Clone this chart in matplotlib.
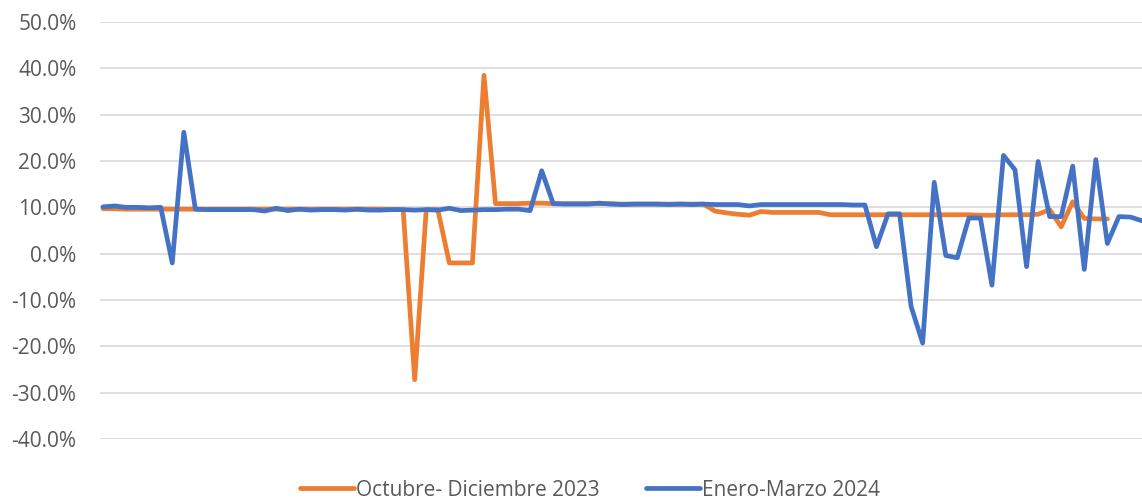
import matplotlib.pyplot as plt
from matplotlib.ticker import FuncFormatter, MultipleLocator

# valores (%)
octubre_diciembre_2023 = [
    9.7, 9.7, 9.6, 9.6, 9.6, 9.6, 9.6, 9.6, 9.6, 9.6,
    9.6, 9.6, 9.6, 9.6, 9.6, 9.6, 9.6, 9.6, 9.6, 9.6,
    9.6, 9.6, 9.6, 9.6, 9.6, 9.5, 9.5, -27.2, 9.5, 9.5,
    -2.0, -2.0, -2.0, 38.5, 10.8, 10.8, 10.8, 10.9, 10.9, 10.8,
    10.8, 10.8, 10.8, 10.8, 10.8, 10.7, 10.7, 10.7, 10.7, 10.7,
    10.7, 10.7, 10.7, 9.2, 8.8, 8.5, 8.3, 9.1, 8.9, 8.9,
    8.9, 8.9, 8.9, 8.4, 8.4, 8.4, 8.4, 8.4, 8.4, 8.4,
    8.4, 8.4, 8.4, 8.4, 8.4, 8.4, 8.3, 8.3, 8.4, 8.4,
    8.4, 8.5, 9.5, 5.8, 11.2, 7.6, 7.5, 7.5,
]
enero_marzo_2024 = [
    10.1, 10.3, 10.0, 10.0, 9.9, 10.0, -2.0, 26.2, 9.6, 9.5,
    9.5, 9.5, 9.5, 9.5, 9.2, 9.8, 9.3, 9.6, 9.4, 9.5,
    9.5, 9.4, 9.6, 9.4, 9.4, 9.5, 9.5, 9.4, 9.5, 9.4,
    9.8, 9.3, 9.4, 9.5, 9.5, 9.6, 9.6, 9.3, 17.9, 10.8,
    10.7, 10.7, 10.7, 10.9, 10.7, 10.6, 10.7, 10.7, 10.7, 10.6,
    10.7, 10.6, 10.7, 10.6, 10.6, 10.6, 10.3, 10.6, 10.6, 10.6,
    10.6, 10.6, 10.6, 10.6, 10.6, 10.5, 10.5, 1.5, 8.6, 8.6,
    -11.4, -19.3, 15.4, -0.4, -0.9, 7.7, 7.7, -6.8, 21.2, 18.1,
    -2.8, 19.9, 8.0, 8.0, 18.9, -3.4, 20.3, 2.2, 8.0, 7.9,
    7.1,
]
etiquetas = ['Octubre- Diciembre 2023', 'Enero-Marzo 2024']
colores = ['#ED7D31', '#4472C4']

plt.rcParams['font.family'] = ['Open Sans', 'DejaVu Sans']

fig = plt.figure(figsize=(11.42, 5.0), dpi=100)
ax = fig.add_axes([100 / 1142, 1 - 439 / 500, 1 - 100 / 1142, (439 - 22) / 500])

for serie, etiqueta, color in zip([octubre_diciembre_2023, enero_marzo_2024], etiquetas, colores):
    ax.plot(range(len(serie)), serie, color=color, lw=3.4, label=etiqueta,
            solid_joinstyle='round', solid_capstyle='round', clip_on=True)

ax.set_ylim(-40, 50)
ax.set_xlim(-0.26, 90.0)
ax.yaxis.set_major_locator(MultipleLocator(10))
ax.yaxis.set_major_formatter(FuncFormatter(lambda v, p: f'{v:.1f}%'))
ax.set_xticks([])
ax.grid(axis='y', color='#D9D9D9', lw=1.2)
ax.set_axisbelow(True)
for s in ax.spines.values():
    s.set_visible(False)
ax.tick_params(axis='y', length=0, pad=17, labelsize=15, labelcolor='#595959')

fig.legend(loc='center', bbox_to_anchor=(590 / 1142, 1 - 490 / 500), ncol=2, frameon=False,
           fontsize=15, labelcolor='#595959', handlelength=2.6, handletextpad=0.1,
           columnspacing=2.2)

fig.savefig('out.png', dpi=100)
